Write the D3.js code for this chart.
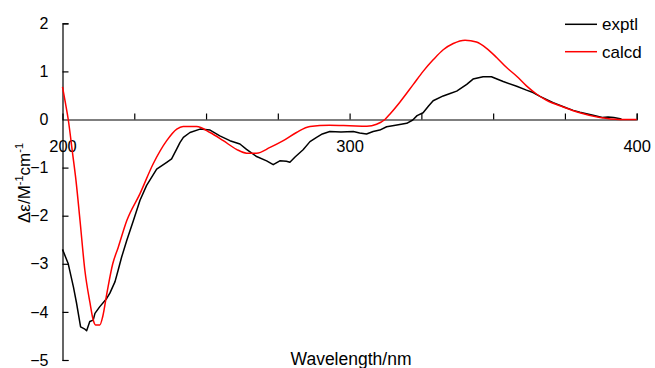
<!DOCTYPE html>
<html>
<head>
<meta charset="utf-8">
<script src="https://cdn.jsdelivr.net/npm/d3@7"></script>
<style>
  html, body { margin: 0; padding: 0; background: #fff; }
  svg text { font-family: "Liberation Sans", Arial, sans-serif; fill: #000; }
</style>
</head>
<body>
<svg id="chart" width="655" height="368"></svg>
<script>
// ---- Data ----
const seriesNames = ["exptl", "calcd"];
const seriesColors = ["#000000", "#ff0000"];

const exptlWavelength = [200, 202, 203.8, 204.9, 206.3, 207.8, 208.4, 209.5, 210.7, 211.3, 213, 215.4, 216.5, 218.3, 219.4, 220.6, 222.4, 224.7, 227, 229.3, 232.8, 236.3, 238, 239.8, 240.9, 242.1, 244.4, 247.9, 251.4, 254.8, 258.3, 261.8, 264.1, 267.6, 271.1, 273.4, 275.7, 278, 279.2, 281, 283.8, 286.2, 288.5, 290.5, 293.1, 297, 301.3, 303.5, 305.9, 308.2, 310.5, 312.9, 316, 319.9, 322, 323.5, 325.6, 327.5, 329.1, 332.6, 335, 337.3, 340.8, 343, 346.5, 349.4, 353.5, 358.2, 361.6, 363.9, 366.3, 370.9, 375.6, 377.9, 380.2, 384.8, 388, 390, 392, 394.7];
const exptlValues = [-2.7, -3.0, -3.48, -3.82, -4.31, -4.36, -4.39, -4.2, -4.17, -4.03, -3.89, -3.72, -3.61, -3.37, -3.13, -2.86, -2.51, -2.1, -1.68, -1.37, -1.03, -0.89, -0.82, -0.61, -0.48, -0.37, -0.27, -0.2, -0.22, -0.34, -0.44, -0.51, -0.62, -0.77, -0.86, -0.94, -0.86, -0.87, -0.89, -0.78, -0.63, -0.46, -0.37, -0.3, -0.25, -0.26, -0.25, -0.28, -0.3, -0.25, -0.22, -0.15, -0.12, -0.08, -0.01, 0.08, 0.14, 0.28, 0.39, 0.49, 0.54, 0.59, 0.73, 0.84, 0.89, 0.89, 0.79, 0.69, 0.61, 0.56, 0.48, 0.35, 0.24, 0.19, 0.15, 0.09, 0.04, 0.05, 0.04, 0.01];

const calcdWavelength = [200, 201, 202, 203.5, 204.7, 206.1, 207.8, 209.6, 210.7, 211.5, 213, 214, 215.5, 217.5, 219.4, 222.4, 227, 231.6, 236.3, 239.8, 242, 246.7, 251.4, 256, 260.6, 264.1, 267.6, 272.3, 276.9, 281.5, 286.2, 293, 300, 306, 309.4, 312.3, 314, 317.5, 322.2, 325.6, 329.1, 332.6, 336.1, 340.2, 344.2, 347.7, 351.2, 354.7, 358.2, 361.6, 365.1, 368.6, 374.4, 380.2, 387.2, 394.1, 400];
const calcdValues = [0.68, 0.35, 0.0, -0.7, -1.27, -2.1, -3.14, -3.82, -4.17, -4.27, -4.27, -4.1, -3.6, -3.0, -2.66, -2.1, -1.54, -0.92, -0.44, -0.2, -0.145, -0.145, -0.27, -0.44, -0.62, -0.7, -0.7, -0.58, -0.44, -0.27, -0.145, -0.12, -0.13, -0.14, -0.1, 0.0, 0.11, 0.36, 0.73, 1.0, 1.24, 1.45, 1.58, 1.65, 1.61, 1.48, 1.29, 1.08, 0.9, 0.7, 0.53, 0.4, 0.26, 0.14, 0.04, 0.0, 0.0];

const xTicks = [200, 225, 250, 275, 300, 325, 350, 375, 400];
const xTickLabels = [200, 300, 400];
const yTicks = [-5, -4, -3, -2, -1, 0, 1, 2];

// ---- Layout ----
const svg = d3.select("#chart");
const x = d3.scaleLinear().domain([200, 400]).range([62.5, 636.7]);
const y = d3.scaleLinear().domain([-5, 2]).range([360, 23.3]);

// Y axis (ticks pointing inward, labels on the left)
const yAxis = d3.axisLeft(y).tickValues(yTicks).tickSize(-6).tickPadding(14).tickFormat(d3.format("d"));
const gy = svg.append("g").attr("transform", `translate(${x(200)},0)`).call(yAxis);
gy.select(".domain").attr("stroke", "#000").attr("stroke-width", 1.2);
gy.selectAll(".tick line").attr("stroke", "#000").attr("stroke-width", 1.2);
gy.selectAll(".tick text").attr("font-size", 16).attr("font-family", "Liberation Sans, Arial, sans-serif");
gy.selectAll(".tick").filter(d => d === 0).select("line").remove();

// X axis at y = 0 (ticks pointing upward)
const xAxis = d3.axisBottom(x).tickValues(xTicks).tickSize(-6).tickPadding(21)
  .tickFormat(d => xTickLabels.includes(d) ? String(d) : "");
const gx = svg.append("g").attr("transform", `translate(0,${y(0)})`).call(xAxis);
gx.select(".domain").attr("stroke", "#000").attr("stroke-width", 1.2);
gx.selectAll(".tick line").attr("stroke", "#000").attr("stroke-width", 1.2);
gx.selectAll(".tick text").attr("font-size", 16.5).attr("font-family", "Liberation Sans, Arial, sans-serif");
gx.selectAll(".tick").filter(d => d === 200).select("line").remove();

// Curves
const line = d3.line().x(d => x(d[0])).y(d => y(d[1]));
const exptlData = exptlWavelength.map((w, i) => [w, exptlValues[i]]);
const calcdData = calcdWavelength.map((w, i) => [w, calcdValues[i]]);

svg.append("path").datum(exptlData)
  .attr("fill", "none").attr("stroke", seriesColors[0]).attr("stroke-width", 1.5)
  .attr("stroke-linejoin", "round")
  .attr("d", line.curve(d3.curveLinear));
svg.append("path").datum(calcdData)
  .attr("fill", "none").attr("stroke", seriesColors[1]).attr("stroke-width", 1.5)
  .attr("stroke-linejoin", "round")
  .attr("d", d3.line().x(d => x(d[0])).y(d => y(d[1])).curve(d3.curveMonotoneX));

// Legend
const legend = svg.append("g");
seriesNames.forEach((name, i) => {
  const ly = 24.3 + i * 27.4;
  legend.append("line").attr("x1", 565).attr("x2", 597).attr("y1", ly).attr("y2", ly)
    .attr("stroke", seriesColors[i]).attr("stroke-width", 1.5);
  legend.append("text").attr("x", 602).attr("y", ly).attr("dy", "0.35em")
    .attr("font-size", 17).text(name);
});

// Axis titles
svg.append("text").attr("x", 351).attr("y", 365).attr("text-anchor", "middle")
  .attr("font-size", 17.5).text("Wavelength/nm");

const yt = svg.append("text").attr("transform", "translate(30,183) rotate(-90)")
  .attr("text-anchor", "middle").attr("font-size", 17);
yt.append("tspan").text("Δε/M");
yt.append("tspan").attr("dy", -7).attr("font-size", 11).text("-1");
yt.append("tspan").attr("dy", 7).text("cm");
yt.append("tspan").attr("dy", -7).attr("font-size", 11).text("-1");
</script>
</body>
</html>
